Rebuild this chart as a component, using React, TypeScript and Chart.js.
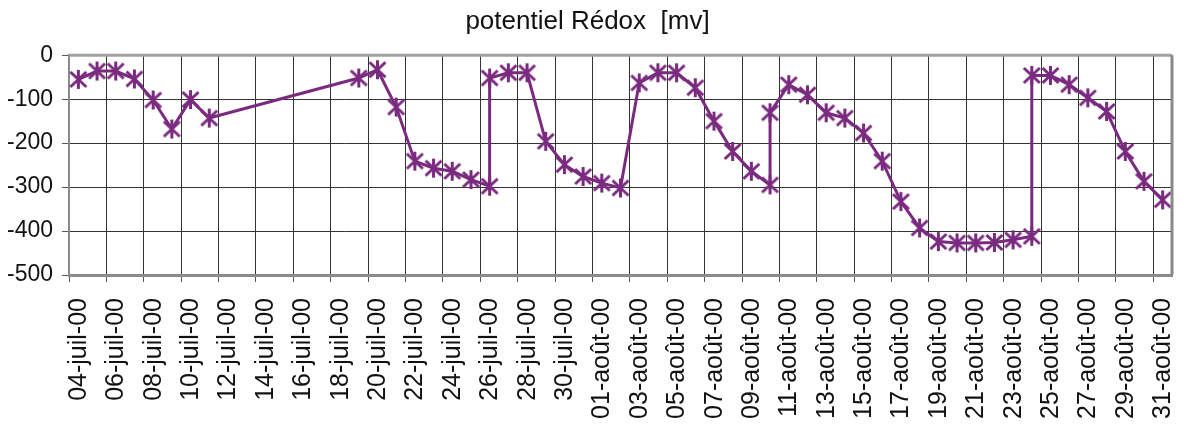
import React, { useEffect, useRef } from 'react';
import { Chart, registerables } from 'chart.js';

Chart.register(...registerables);

const titleText = 'potentiel Rédox  [mv]';

// measurement dates (some days have two readings)
const dates = [
  '2000-07-04', '2000-07-05', '2000-07-06', '2000-07-07', '2000-07-08', '2000-07-09', '2000-07-10', '2000-07-11',
  '2000-07-19', '2000-07-20', '2000-07-21', '2000-07-22', '2000-07-23', '2000-07-24', '2000-07-25', '2000-07-26',
  '2000-07-26', '2000-07-27', '2000-07-28', '2000-07-29', '2000-07-30', '2000-07-31', '2000-08-01', '2000-08-02',
  '2000-08-03', '2000-08-04', '2000-08-05', '2000-08-06', '2000-08-07', '2000-08-08', '2000-08-09', '2000-08-10',
  '2000-08-10', '2000-08-11', '2000-08-12', '2000-08-13', '2000-08-14', '2000-08-15', '2000-08-16', '2000-08-17',
  '2000-08-18', '2000-08-19', '2000-08-20', '2000-08-21', '2000-08-22', '2000-08-23', '2000-08-24', '2000-08-24',
  '2000-08-25', '2000-08-26', '2000-08-27', '2000-08-28', '2000-08-29', '2000-08-30', '2000-08-31',
];

const redox = [
  -55, -36, -36, -54, -102, -168, -101, -143,
  -52, -33, -118, -241, -257, -264, -283, -298,
  -52, -40, -40, -196, -249, -276, -291, -302,
  -63, -40, -40, -74, -150, -219, -264, -295,
  -131, -67, -90, -131, -143, -177, -241, -333,
  -393, -424, -427, -427, -426, -420, -412, -46,
  -46, -67, -97, -128, -219, -287, -329,
];

const yTicks = [0, -100, -200, -300, -400, -500];
const axisStart = '2000-07-04';
const axisEnd = '2000-09-01';
const tickStepDays = 2;
const monthsFr = ['janv', 'févr', 'mars', 'avr', 'mai', 'juin', 'juil', 'août', 'sept', 'oct', 'nov', 'déc'];

const DAY = 86400000;
const toUTC = (iso: string) => Date.UTC(+iso.slice(0, 4), +iso.slice(5, 7) - 1, +iso.slice(8, 10));
const dayIndex = (iso: string) => Math.round((toUTC(iso) - toUTC(axisStart)) / DAY);
const labelFor = (d: number) => {
  const dt = new Date(toUTC(axisStart) + d * DAY);
  const dd = String(dt.getUTCDate()).padStart(2, '0');
  const yy = String(dt.getUTCFullYear() % 100).padStart(2, '0');
  return `${dd}-${monthsFr[dt.getUTCMonth()]}-${yy}`;
};

const PURPLE = '#7a2a7f';
const FONT = '"Liberation Sans", Arial, sans-serif';

function makeStar(color: string) {
  const c = document.createElement('canvas');
  const s = 21;
  c.width = s;
  c.height = s;
  const g = c.getContext('2d')!;
  g.strokeStyle = color;
  g.lineWidth = 3;
  const m = s / 2;
  g.beginPath();
  g.moveTo(m - 8, m - 7.5); g.lineTo(m + 8, m + 7.5);
  g.moveTo(m + 8, m - 7.5); g.lineTo(m - 8, m + 7.5);
  g.moveTo(m, m - 9.5); g.lineTo(m, m + 9.5);
  g.stroke();
  return c;
}

const frame = {
  id: 'frame',
  afterDatasetsDraw(chart: any) {
    const { ctx, chartArea } = chart;
    ctx.save();
    ctx.strokeStyle = '#a0a0a0';
    ctx.lineWidth = 3;
    ctx.beginPath();
    ctx.moveTo(chartArea.left, chartArea.top);
    ctx.lineTo(chartArea.right, chartArea.top);
    ctx.stroke();
    ctx.strokeStyle = '#888';
    ctx.beginPath();
    ctx.moveTo(chartArea.right, chartArea.top);
    ctx.lineTo(chartArea.right, chartArea.bottom);
    ctx.stroke();
    ctx.restore();
  },
};

export default function App() {
  const ref = useRef<HTMLCanvasElement>(null);
  useEffect(() => {
    const star = makeStar(PURPLE);
    const endDay = dayIndex(axisEnd);
    const points = dates.map((d, i) => ({ x: dayIndex(d) + 0.5, y: redox[i] }));
    const chart = new Chart(ref.current!, {
      type: 'line',
      data: {
        datasets: [{
          data: points,
          borderColor: PURPLE,
          borderWidth: 3,
          pointStyle: star as any,
          pointRadius: 9,
          pointBackgroundColor: PURPLE,
          pointBorderColor: PURPLE,
          tension: 0,
        }],
      },
      options: {
        responsive: false,
        animation: false,
        devicePixelRatio: 1,
        layout: { padding: { left: 0, right: 9, top: 0, bottom: 0 } },
        plugins: {
          legend: { display: false },
          tooltip: { enabled: false },
          title: {
            display: true,
            text: titleText,
            color: '#111',
            font: { family: FONT, size: 26, weight: 'normal' },
            padding: { top: 6, bottom: 18 },
          },
        },
        scales: {
          x: {
            type: 'linear',
            min: 0,
            max: endDay,
            afterBuildTicks: (s: any) => {
              const t = [];
              for (let d = 0; d < endDay; d += tickStepDays) t.push({ value: d });
              s.ticks = t;
            },
            afterFit: (s: any) => {
              s.height = 152;
              s.paddingLeft = 0;
              s.paddingRight = 0;
            },
            ticks: {
              autoSkip: false,
              maxRotation: 90,
              minRotation: 90,
              padding: 16,
              labelOffset: 10,
              color: '#111',
              font: { family: FONT, size: 25 },
              callback: (v: any) => labelFor(Number(v)),
            },
            grid: { color: '#333', lineWidth: 1, tickLength: 7, tickColor: '#555' },
            border: { display: true, color: '#8a8a8a', width: 3 },
          },
          y: {
            type: 'linear',
            min: yTicks[yTicks.length - 1],
            max: yTicks[0],
            afterBuildTicks: (s: any) => { s.ticks = yTicks.map((v) => ({ value: v })); },
            afterFit: (s: any) => {
              s.width = 69;
              s.paddingTop = 0;
              s.paddingBottom = 0;
            },
            ticks: {
              padding: 9,
              color: '#111',
              font: { family: FONT, size: 23 },
            },
            grid: { color: '#333', lineWidth: 1, tickLength: 7, tickColor: '#555' },
            border: { display: true, color: '#8a8a8a', width: 2 },
          },
        },
      },
      plugins: [frame],
    });
    return () => chart.destroy();
  }, []);
  return (
    <div style={{ position: 'absolute', left: 0, top: 0, width: 1184, height: 427 }}>
      <canvas ref={ref} width={1184} height={427} />
    </div>
  );
}
